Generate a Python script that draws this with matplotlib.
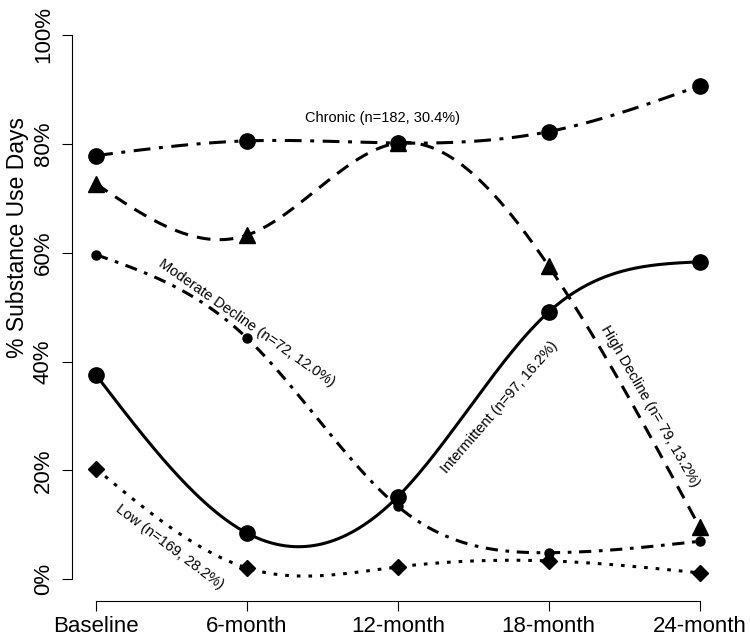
import numpy as np
import matplotlib
matplotlib.use("Agg")
import matplotlib.pyplot as plt

plt.rcParams['font.family'] = ['Liberation Sans', 'DejaVu Sans']

# data, % substance use days per wave
waves = ["Baseline", "6-month", "12-month", "18-month", "24-month"]
chronic = [77.8, 80.5, 80.1, 82.2, 90.6]
high_decline = [72.6, 63.2, 80.1, 57.5, 9.6]
moderate_decline = [59.6, 44.3, 13.4, 4.9, 7.0]
intermittent = [37.5, 8.5, 15.2, 49.1, 58.3]
low = [20.3, 2.1, 2.3, 3.4, 1.2]


def natural_spline(x, y, n=300):
    x = np.asarray(x, float)
    y = np.asarray(y, float)
    k = len(x)
    h = np.diff(x)
    A = np.zeros((k, k))
    b = np.zeros(k)
    A[0, 0] = A[-1, -1] = 1
    for i in range(1, k - 1):
        A[i, i - 1] = h[i - 1]
        A[i, i] = 2 * (h[i - 1] + h[i])
        A[i, i + 1] = h[i]
        b[i] = 6 * ((y[i + 1] - y[i]) / h[i] - (y[i] - y[i - 1]) / h[i - 1])
    M = np.linalg.solve(A, b)
    xs = np.linspace(x[0], x[-1], n)
    j = np.clip(np.searchsorted(x, xs) - 1, 0, k - 2)
    t1 = x[j + 1] - xs
    t2 = xs - x[j]
    hj = h[j]
    ys = (M[j] * t1**3 + M[j + 1] * t2**3) / (6 * hj) \
        + (y[j] / hj - M[j] * hj / 6) * t1 + (y[j + 1] / hj - M[j + 1] * hj / 6) * t2
    return xs, ys


x = np.arange(1, len(waves) + 1)

fig = plt.figure(figsize=(7.5, 6.43), dpi=100)
ax = fig.add_axes([0.096, 0.065, 0.869, 0.915])

lw = 2.2
series = [
    (chronic, (0, (5.5, 2.8, 1.3, 2.8)), 'o', 11),
    (high_decline, (0, (4.5, 3)), '^', 12),
    (moderate_decline, (0, (4, 2.5, 1.2, 2.5)), 'o', 6.5),
    (intermittent, '-', 'o', 11),
    (low, (0, (1.2, 2.6)), 'D', 8),
]
for vals, ls, mk, ms in series:
    xs, ys = natural_spline(x, vals)
    ax.plot(xs, ys, color='black', lw=lw, linestyle=ls)
    ax.plot(x, vals, linestyle='none', marker=mk, ms=ms, color='black')

# group labels along the curves
ax.text(2.9, 84.7, "Chronic (n=182, 30.4%)", fontsize=10.5, ha='center', va='center')
ax.text(2.0, 47.0, "Moderate Decline (n=72, 12.0%)", fontsize=10.5,
        rotation=-35, ha='center', va='center')
ax.text(3.67, 31.6, "Intermittent (n=97, 16.2%)", fontsize=10.5,
        rotation=49, ha='center', va='center')
ax.text(4.67, 31.8, "High Decline (n= 79, 13.2%)", fontsize=10.5,
        rotation=-60, ha='center', va='center')
ax.text(1.49, 6.0, "Low (n=169, 28.2%)", fontsize=10.5,
        rotation=-37, ha='center', va='center')

ax.set_xlim(0.84, 5.16)
ax.set_ylim(-4, 104)
ax.set_xticks(x)
ax.set_xticklabels(waves, fontsize=16)
yt = [0, 20, 40, 60, 80, 100]
ax.set_yticks(yt)
ax.set_yticklabels([f"{v}%" for v in yt], fontsize=16, rotation=90, va='center')

for s in ['top', 'right']:
    ax.spines[s].set_visible(False)
ax.spines['left'].set_bounds(0, 100)
ax.spines['bottom'].set_bounds(1, 5)
for s in ['left', 'bottom']:
    ax.spines[s].set_linewidth(0.8)
ax.tick_params(axis='both', length=7, width=0.8)
ax.tick_params(axis='x', pad=4)
ax.tick_params(axis='y', pad=6)

fig.text(0.024, 0.63, "% Substance Use Days", rotation=90, fontsize=16.5,
         ha='center', va='center')

fig.savefig("out.png", dpi=100, facecolor='white')
